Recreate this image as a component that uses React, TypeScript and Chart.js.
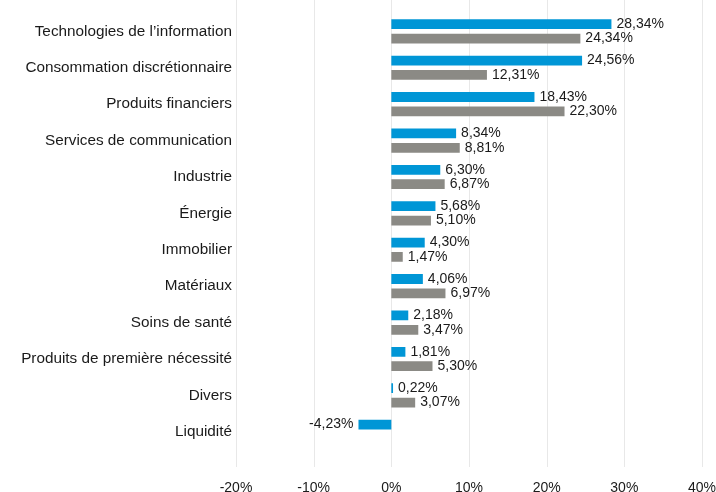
import React, { useEffect, useRef } from "react";
import { Chart, registerables } from "chart.js";

Chart.register(...registerables);

const categories = [
  "Technologies de l\u2019information",
  "Consommation discrétionnaire",
  "Produits financiers",
  "Services de communication",
  "Industrie",
  "Énergie",
  "Immobilier",
  "Matériaux",
  "Soins de santé",
  "Produits de première nécessité",
  "Divers",
  "Liquidité",
];
const seriesBlue = [28.34, 24.56, 18.43, 8.34, 6.3, 5.68, 4.3, 4.06, 2.18, 1.81, 0.22, -4.23];
const seriesGray: (number | null)[] = [24.34, 12.31, 22.3, 8.81, 6.87, 5.1, 1.47, 6.97, 3.47, 5.3, 3.07, null];
const xTicks = [-20, -10, 0, 10, 20, 30, 40];

const FONT = "'Liberation Sans', Arial, sans-serif";
const fmt = (v: number) => v.toFixed(2).replace(".", ",") + "%";

const gridPlugin = {
  id: "customGrid",
  beforeDatasetsDraw(chart: any) {
    const ctx = chart.ctx;
    const xs = chart.scales.x;
    ctx.save();
    ctx.strokeStyle = "#e8e8e8";
    ctx.lineWidth = 1;
    for (const t of xTicks) {
      const px = Math.round(xs.getPixelForValue(t)) + 0.5;
      ctx.beginPath();
      ctx.moveTo(px, 0);
      ctx.lineTo(px, chart.chartArea.bottom + 17);
      ctx.stroke();
    }
    ctx.restore();
  },
};

const labelPlugin = {
  id: "valueLabels",
  afterDatasetsDraw(chart: any) {
    const ctx = chart.ctx;
    ctx.save();
    ctx.font = `14px ${FONT}`;
    ctx.fillStyle = "#1a1a1a";
    ctx.textBaseline = "middle";
    chart.data.datasets.forEach((ds: any, di: number) => {
      const meta = chart.getDatasetMeta(di);
      meta.data.forEach((bar: any, i: number) => {
        const v = ds.data[i];
        if (v === null || v === undefined) return;
        if (v >= 0) {
          ctx.textAlign = "left";
          ctx.fillText(fmt(v), bar.x + 5, bar.y);
        } else {
          ctx.textAlign = "right";
          ctx.fillText(fmt(v), bar.x - 5, bar.y);
        }
      });
    });
    ctx.restore();
  },
};

export default function App() {
  const ref = useRef<HTMLCanvasElement>(null);
  useEffect(() => {
    if (!ref.current) return;
    const chart = new Chart(ref.current, {
      type: "bar",
      data: {
        labels: categories,
        datasets: [
          {
            data: seriesBlue,
            backgroundColor: "#0096d6",
            categoryPercentage: 0.79,
            barPercentage: 0.68,
          },
          {
            data: seriesGray,
            backgroundColor: "#8b8a85",
            categoryPercentage: 0.79,
            barPercentage: 0.68,
          },
        ],
      },
      options: {
        indexAxis: "y",
        animation: false,
        responsive: false,
        layout: { padding: { top: 10, right: 5, left: 0, bottom: 0 } },
        plugins: { legend: { display: false }, tooltip: { enabled: false } },
        scales: {
          x: {
            min: -20,
            max: 40,
            afterBuildTicks(scale: any) {
              scale.ticks = xTicks.map((v) => ({ value: v }));
            },
            grid: { display: false, drawTicks: true, tickLength: 30 },
            border: { display: false },
            ticks: {
              padding: 0,
              color: "#1a1a1a",
              font: { family: FONT, size: 14 },
              callback: (v: any) => v + "%",
            },
            afterFit(scale: any) {
              scale.height = 42;
            },
          },
          y: {
            grid: { display: false, drawTicks: false },
            border: { display: false },
            ticks: {
              padding: 4,
              color: "#1a1a1a",
              font: { family: FONT, size: 15.3 },
            },
            afterFit(scale: any) {
              scale.width = 236;
            },
          },
        },
      },
      plugins: [gridPlugin, labelPlugin],
    });
    return () => chart.destroy();
  }, []);
  return (
    <div style={{ position: "absolute", left: 0, top: 0, width: 716, height: 492 }}>
      <canvas ref={ref} width={716} height={492} />
    </div>
  );
}
